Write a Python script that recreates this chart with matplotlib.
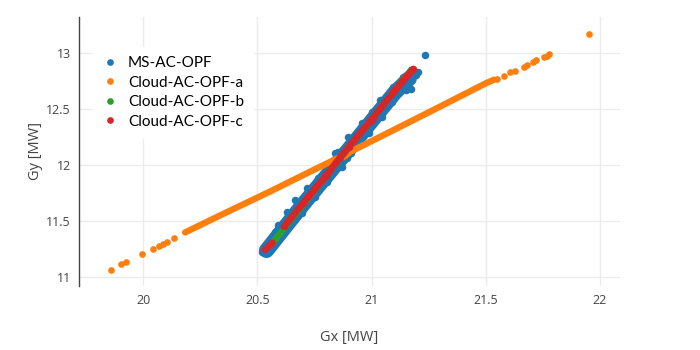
import matplotlib.pyplot as plt
from matplotlib.lines import Line2D

# MS-AC-OPF: cloud of points around a steep line (edges + centre of the band)
ms_x = [20.518, 20.556, 20.578, 20.591, 20.628, 20.664, 20.716, 20.767, 20.818, 20.840,
        20.855, 20.898, 20.957, 21.001, 21.037, 21.096, 21.140,
        20.535, 20.623, 20.695, 20.754, 20.805, 20.871, 20.893, 20.908, 20.988, 21.046,
        21.090, 21.149, 21.178, 21.171, 21.193, 21.205, 21.236]
ms_y = [11.228, 11.332, 11.406, 11.465, 11.584, 11.688, 11.792, 11.881, 11.999, 12.103,
        12.117, 12.251, 12.370, 12.473, 12.577, 12.696, 12.785,
        11.214, 11.436, 11.569, 11.717, 11.851, 11.984, 12.059, 12.103, 12.281, 12.429,
        12.562, 12.666, 12.755, 12.681, 12.800, 12.829, 12.978]
ms_band_x = [20.540, 20.620, 20.700, 20.800, 20.900, 21.000, 21.100, 21.165]
ms_band_y = [11.240, 11.445, 11.650, 11.895, 12.140, 12.390, 12.640, 12.770]

# Cloud-AC-OPF-a: sparse low tail, dense band, sparse high tail
a_lo_x = [19.857, 19.902, 19.923, 19.994, 20.041, 20.069, 20.088, 20.105, 20.135]
a_lo_y = [11.068, 11.116, 11.133, 11.207, 11.254, 11.281, 11.299, 11.317, 11.347]
a_band_x = [20.183, 20.350, 20.556, 20.700, 20.850, 20.880, 20.906, 21.100, 21.300,
            21.499, 21.537]
a_band_y = [11.400, 11.565, 11.765, 11.910, 12.060, 12.075, 12.117, 12.315, 12.520,
            12.726, 12.760]
a_hi_x = [21.550, 21.582, 21.605, 21.627, 21.667, 21.682, 21.708, 21.719, 21.754,
          21.769, 21.779, 21.955]
a_hi_y = [12.765, 12.790, 12.824, 12.839, 12.874, 12.890, 12.919, 12.934, 12.960,
          12.975, 12.985, 13.165]

# Cloud-AC-OPF-b
b_x = [20.570, 20.583, 20.596, 21.170]
b_y = [11.317, 11.350, 11.383, 12.838]

# Cloud-AC-OPF-c: short low piece + main line
c_lo_x = [20.534, 20.552, 20.566]
c_lo_y = [11.249, 11.285, 11.310]
c_x = [20.618, 20.700, 20.800, 20.864, 20.900, 21.000, 21.100, 21.182]
c_y = [11.456, 11.660, 11.905, 12.070, 12.160, 12.405, 12.660, 12.853]

labels = ["MS-AC-OPF", "Cloud-AC-OPF-a", "Cloud-AC-OPF-b", "Cloud-AC-OPF-c"]
colors = ["#1f77b4", "#ff7f0e", "#2ca02c", "#d62728"]

plt.rcParams["font.family"] = ["Open Sans", "DejaVu Sans"]

fig = plt.figure(figsize=(7, 3.5), dpi=100)
ax = fig.add_axes([79 / 700, 1 - 286 / 350, 541 / 700, 269 / 350])

ms = 4.8
# blue cloud
ax.plot(ms_band_x, ms_band_y, color=colors[0], lw=11, solid_capstyle="round", zorder=2)
ax.plot(ms_x, ms_y, "o", color=colors[0], ms=ms + 0.6, mew=0, zorder=2)
# orange
ax.plot(a_band_x, a_band_y, color=colors[1], lw=4.6, solid_capstyle="round", zorder=3)
ax.plot(a_lo_x + a_hi_x, a_lo_y + a_hi_y, "o", color=colors[1], ms=ms, mew=0, zorder=3)
# green
ax.plot(b_x, b_y, "-o", color=colors[2], lw=4.6, ms=ms, mew=0, zorder=4)
# red
ax.plot(c_lo_x, c_lo_y, "-o", color=colors[3], lw=4.6, ms=ms, mew=0,
        solid_capstyle="round", zorder=5)
ax.plot(c_x, c_y, "-o", color=colors[3], lw=5, ms=ms + 0.6, mew=0,
        solid_capstyle="round", zorder=5)

ax.set_xlim(19.718, 22.089)
ax.set_ylim(10.923, 13.318)
ax.set_xticks([20, 20.5, 21, 21.5, 22])
ax.set_xticklabels(["20", "20.5", "21", "21.5", "22"])
ax.set_yticks([11, 11.5, 12, 12.5, 13])
ax.set_yticklabels(["11", "11.5", "12", "12.5", "13"])
ax.grid(True, color="#ebebeb", lw=1)
ax.set_axisbelow(True)
for s in ["top", "right", "bottom"]:
    ax.spines[s].set_visible(False)
ax.spines["left"].set_color("#444444")
ax.spines["left"].set_linewidth(1)
ax.tick_params(axis="both", length=0, colors="#444444", labelsize=9)
ax.tick_params(axis="x", pad=6)
ax.tick_params(axis="y", pad=6)

ax.set_xlabel("Gx [MW]", fontsize=10.5, color="#444444", labelpad=16)
ax.set_ylabel("Gy [MW]", fontsize=10.5, color="#444444", labelpad=2)

handles = [Line2D([], [], ls="", marker="o", color=c, ms=ms, mew=0) for c in colors]
leg = ax.legend(handles, labels, loc="upper left", bbox_to_anchor=(0.024, 0.888),
                borderaxespad=0, frameon=True, fancybox=False, framealpha=1,
                edgecolor="white", handlelength=1.2,
                handletextpad=0.55, labelspacing=0.36, borderpad=0.6,
                prop={"family": ["Lato", "DejaVu Sans"], "size": 11})
for t in leg.get_texts():
    t.set_color("black")

plt.savefig("out.png", dpi=100)
